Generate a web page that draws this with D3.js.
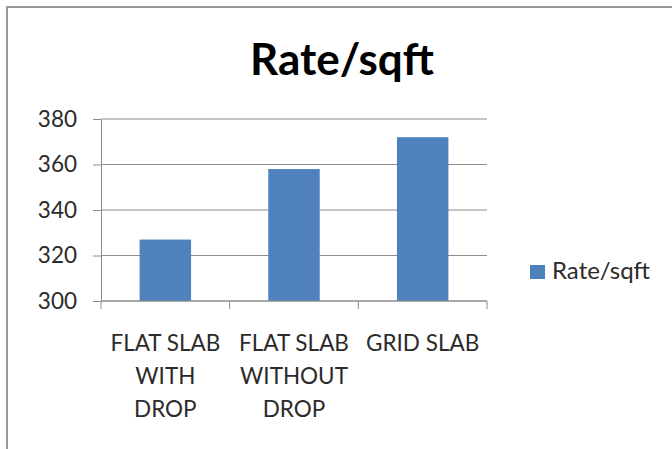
<!DOCTYPE html>
<html>
<head>
<meta charset="utf-8">
<script src="https://cdn.jsdelivr.net/npm/d3@7"></script>
<style>
  body { margin: 0; background: #fff; }
  svg { display: block; font-family: Lato, "Open Sans", sans-serif; }
</style>
</head>
<body>
<svg id="chart"></svg>
<script>
// data
const categories = [
    ["FLAT SLAB", "WITH", "DROP"],
    ["FLAT SLAB", "WITHOUT", "DROP"],
    ["GRID SLAB"]
];
const rates = [327, 358, 372];
const yTicks = [300, 320, 340, 360, 380];
const seriesName = "Rate/sqft";
const chartTitle = "Rate/sqft";

const W = 672, H = 449;
const margin = { top: 119, right: 185, bottom: 148, left: 101 };
const width = W - margin.left - margin.right;
const height = H - margin.top - margin.bottom;

const svg = d3.select("#chart")
    .attr("width", W)
    .attr("height", H);

// outer frame (only top and left visible in the crop)
svg.append("path")
    .attr("d", `M7,${H} V7 H${W}`)
    .attr("fill", "none")
    .attr("stroke", "#9a9a9a")
    .attr("stroke-width", 2);

const g = svg.append("g")
    .attr("transform", `translate(${margin.left},${margin.top})`);

const x = d3.scaleBand()
    .domain(d3.range(rates.length))
    .range([0, width])
    .paddingInner(0.6)
    .paddingOuter(0.3);

const y = d3.scaleLinear()
    .domain([300, 380])
    .range([height, 0]);

// gridlines
g.append("g")
    .selectAll("line")
    .data(yTicks)
    .join("line")
    .attr("x1", 0)
    .attr("x2", width)
    .attr("y1", d => y(d))
    .attr("y2", d => y(d))
    .attr("stroke", "#8c8c8c")
    .attr("stroke-width", 1);

// bars
g.selectAll("rect.bar")
    .data(rates)
    .join("rect")
    .attr("class", "bar")
    .attr("x", (d, i) => x(i))
    .attr("y", d => y(d))
    .attr("width", x.bandwidth())
    .attr("height", d => height - y(d))
    .attr("fill", "#4f81bd");

// y axis
const yAxis = g.append("g")
    .call(d3.axisLeft(y).tickValues(yTicks).tickSize(8).tickPadding(16).tickSizeOuter(0));
yAxis.select(".domain").attr("stroke", "#8c8c8c");
yAxis.selectAll(".tick line").attr("stroke", "#8c8c8c");
yAxis.selectAll(".tick text")
    .attr("fill", "#2b2b2b")
    .style("font-size", "22.5px")
    .style("font-family", "Lato, sans-serif");

// x axis: ticks sit on the category boundaries
const boundaries = d3.range(rates.length + 1).map(i => i * width / rates.length);
const xAxis = g.append("g").attr("transform", `translate(0,${height})`);
xAxis.append("line")
    .attr("x1", 0).attr("x2", width)
    .attr("stroke", "#8c8c8c");
xAxis.selectAll("line.tk")
    .data(boundaries)
    .join("line")
    .attr("class", "tk")
    .attr("x1", d => d).attr("x2", d => d)
    .attr("y1", 0).attr("y2", 8)
    .attr("stroke", "#8c8c8c");

const labels = xAxis.selectAll("text")
    .data(categories)
    .join("text")
    .attr("x", (d, i) => x(i) + x.bandwidth() / 2)
    .attr("y", 50)
    .attr("text-anchor", "middle")
    .attr("fill", "#2b2b2b")
    .style("font-size", "22.5px");
labels.selectAll("tspan")
    .data(d => d)
    .join("tspan")
    .attr("x", function () { return this.parentNode.getAttribute("x"); })
    .attr("dy", (d, i) => i === 0 ? 0 : 33)
    .text(d => d);

// title
svg.append("text")
    .attr("x", 342)
    .attr("y", 75)
    .attr("text-anchor", "middle")
    .attr("fill", "#000")
    .style("font-size", "44px")
    .style("font-weight", "bold")
    .text(chartTitle);

// legend
const legend = svg.append("g").attr("transform", "translate(530,265)");
legend.append("rect")
    .attr("width", 15)
    .attr("height", 14)
    .attr("fill", "#4f81bd");
legend.append("text")
    .attr("x", 22)
    .attr("y", 14)
    .attr("fill", "#2b2b2b")
    .style("font-size", "24px")
    .text(seriesName);
</script>
</body>
</html>
